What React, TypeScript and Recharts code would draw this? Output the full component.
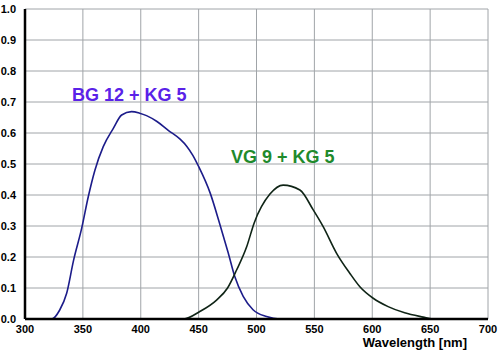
import React from 'react';
import {
  LineChart,
  Line,
  XAxis,
  YAxis,
  CartesianGrid,
  ReferenceDot,
  Label,
} from 'recharts';

// BG 12 + KG 5 transmission curve (wavelength nm -> transmission)
const bgWavelengths = [300, 323, 330, 336, 342, 349, 354.7, 360.4, 367.6, 376.3, 383.5, 392, 399, 405, 414, 424, 434, 440, 445, 450, 460, 468, 475.6, 481.3, 488.5, 497, 508.7, 520, 600, 700];
const bgValues = [0, 0, 0.029, 0.083, 0.19, 0.293, 0.395, 0.48, 0.556, 0.615, 0.658, 0.669, 0.664, 0.656, 0.637, 0.608, 0.58, 0.556, 0.528, 0.492, 0.406, 0.31, 0.213, 0.136, 0.073, 0.03, 0.008, 0, 0, 0];

// VG 9 + KG 5 transmission curve
const vgWavelengths = [300, 437, 451, 465.5, 475, 482.8, 491.5, 498, 511.6, 523, 537.5, 549, 557.6, 569.2, 580.7, 589.3, 600.8, 613.7, 628, 644, 652, 700];
const vgValues = [0, 0, 0.024, 0.061, 0.1, 0.158, 0.233, 0.31, 0.403, 0.432, 0.416, 0.352, 0.298, 0.212, 0.147, 0.104, 0.067, 0.04, 0.02, 0.006, 0, 0];

const xTicks = [300, 350, 400, 450, 500, 550, 600, 650, 700];
const yTicks = [0, 0.1, 0.2, 0.3, 0.4, 0.5, 0.6, 0.7, 0.8, 0.9, 1.0];

const bgData = bgWavelengths.map((wl, i) => ({ wl, t: bgValues[i] }));
const vgData = vgWavelengths.map((wl, i) => ({ wl, t: vgValues[i] }));

const font = 'Liberation Sans, Arial, sans-serif';
const tickStyle = { fontFamily: font, fontSize: 11, fontWeight: 'bold', fill: '#000' };

export default function App() {
  return (
    <div style={{ position: 'fixed', left: 0, top: 0, width: 500, height: 352, background: '#fff' }}>
      <LineChart
        width={500}
        height={352}
        margin={{ top: 9, right: 12, left: 0, bottom: 0 }}
        style={{ fontFamily: font }}
      >
        <CartesianGrid stroke="#a0a4a8" strokeWidth={1} />
        <XAxis
          dataKey="wl"
          type="number"
          domain={[300, 700]}
          ticks={xTicks}
          height={33}
          allowDuplicatedCategory={false}
          tick={tickStyle}
          tickLine={false}
          axisLine={{ stroke: '#000', strokeWidth: 2.5 }}
          tickMargin={0}
        >
          <Label
            value="Wavelength [nm]"
            position="insideBottomRight"
            offset={5}
            dx={-16}
            style={{ fontFamily: font, fontSize: 13, fontWeight: 'bold', fill: '#000' }}
          />
        </XAxis>
        <YAxis
          type="number"
          domain={[0, 1]}
          ticks={yTicks}
          width={25}
          tick={tickStyle}
          tickFormatter={(v: number) => v.toFixed(1)}
          tickLine={false}
          axisLine={{ stroke: '#000', strokeWidth: 2.5 }}
          tickMargin={3}
        />
        <Line
          data={bgData}
          dataKey="t"
          type="monotone"
          stroke="#1c1c8a"
          strokeWidth={1.6}
          dot={false}
          isAnimationActive={false}
        />
        <Line
          data={vgData}
          dataKey="t"
          type="monotone"
          stroke="#0f2416"
          strokeWidth={1.6}
          dot={false}
          isAnimationActive={false}
        />
        <ReferenceDot
          x={336.3}
          y={0.723}
          r={0}
          ifOverflow="visible"
          label={{ value: 'BG 12 + KG 5', position: 'right', fill: '#5a22e8', fontSize: 18, fontWeight: 'bold' }}
        />
        <ReferenceDot
          x={473.6}
          y={0.523}
          r={0}
          ifOverflow="visible"
          label={{ value: 'VG 9 + KG 5', position: 'right', fill: '#1f8a2c', fontSize: 18, fontWeight: 'bold' }}
        />
      </LineChart>
    </div>
  );
}
